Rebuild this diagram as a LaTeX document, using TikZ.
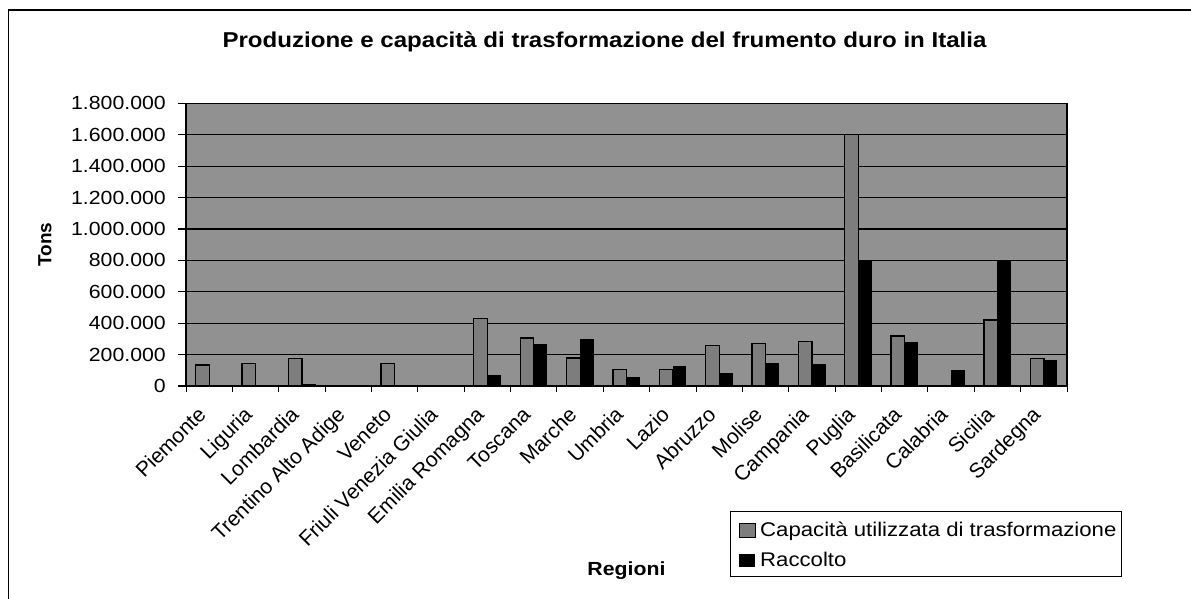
\documentclass[tikz,border=0pt]{standalone}
\usepackage{fontspec}
\setmainfont{Liberation Sans}
\usepackage{graphicx}
\definecolor{plotgray}{gray}{0.57}
\definecolor{capgray}{gray}{0.49}
\newcommand{\xwide}[1]{\scalebox{1.12}[1]{#1}}

\begin{document}
\begin{tikzpicture}[x=1pt,y=-1pt,
    gridline/.style={line width=1.1pt},
    ylab/.style={anchor=east,inner sep=0pt,font=\fontsize{19}{19}\selectfont},
    xlab/.style={rotate=45,anchor=base east,inner sep=0pt,font=\fontsize{21}{21}\selectfont},
    capbar/.style={fill=capgray,draw=black,line width=1.3pt},
    cropbar/.style={fill=black}]
  \useasboundingbox[fill=white] (0,0) rectangle (1191,599);
  \draw[line width=1.8pt] (8.5,599) -- (8.5,10) -- (1191,10);
  \node[anchor=base,font=\fontsize{21.5}{22}\selectfont\bfseries] (title) at (604.5,48)
    {\xwide{Produzione e capacità di trasformazione del frumento duro in Italia}};
  % plot area and value axis
  \fill[plotgray] (186,103.3) rectangle (1067,386);
  \foreach \v/\lab in {0/0,1/200.000,2/400.000,3/600.000,4/800.000,5/1.000.000,
                       6/1.200.000,7/1.400.000,8/1.600.000,9/1.800.000}{
    \draw[gridline] (178,386-\v*31.41) -- (1067,386-\v*31.41);
    \node[ylab] (y\v) at (166,386-\v*31.41) {\xwide{\lab}};
  }
  \node[rotate=90,font=\fontsize{19}{19}\selectfont\bfseries] (tons) at (45,244.5) {Tons};
  % bars per region
  \foreach \reg/\capv/\cropv [count=\i from 0] in {Piemonte/133/0, Liguria/144/0,
      Lombardia/176/10, Trentino Alto Adige/0/0, Veneto/144/0, Friuli Venezia Giulia/0/0,
      Emilia Romagna/431/72, Toscana/305/268, Marche/178/300, Umbria/103/56,
      Lazio/103/128, Abruzzo/256/84, Molise/272/145, Campania/282/140,
      Puglia/1600/800, Basilicata/318/282, Calabria/5/102, Sicilia/420/800,
      Sardegna/176/166}{
    \pgfmathsetmacro\cx{186+(\i+0.5)*46.37}
    \ifnum\capv>0 \draw[capbar] (\cx-13.6,386) rectangle (\cx,386-\capv*0.15706); \fi
    \ifnum\cropv>0 \fill[cropbar] (\cx,386) rectangle (\cx+13.6,386-\cropv*0.15706); \fi
    \node[xlab] (r\i) at (\cx-2,416) {\reg};
  }
  \draw[line width=1.2pt] (186,103.3) rectangle (1067,386);
  \foreach \k in {0,...,19}
    \draw[line width=1pt] (186+\k*46.37,386) -- (186+\k*46.37,392);
  \node[anchor=base,font=\fontsize{19}{19}\selectfont\bfseries] (regioni) at (626.5,575) {\xwide{Regioni}};
  % legend
  \draw[line width=1pt,fill=white] (730.7,511.7) rectangle (1121.7,576);
  \draw[fill=capgray,line width=0.8pt] (739,523.5) rectangle (755,537);
  \node[anchor=base west,inner sep=0pt,font=\fontsize{19.8}{20}\selectfont] (leg1) at (760,536.5)
    {\xwide{Capacità utilizzata di trasformazione}};
  \fill (739,554) rectangle (755,567);
  \node[anchor=base west,inner sep=0pt,font=\fontsize{19.8}{20}\selectfont] (leg2) at (760,566.7)
    {\xwide{Raccolto}};
\end{tikzpicture}
\end{document}
